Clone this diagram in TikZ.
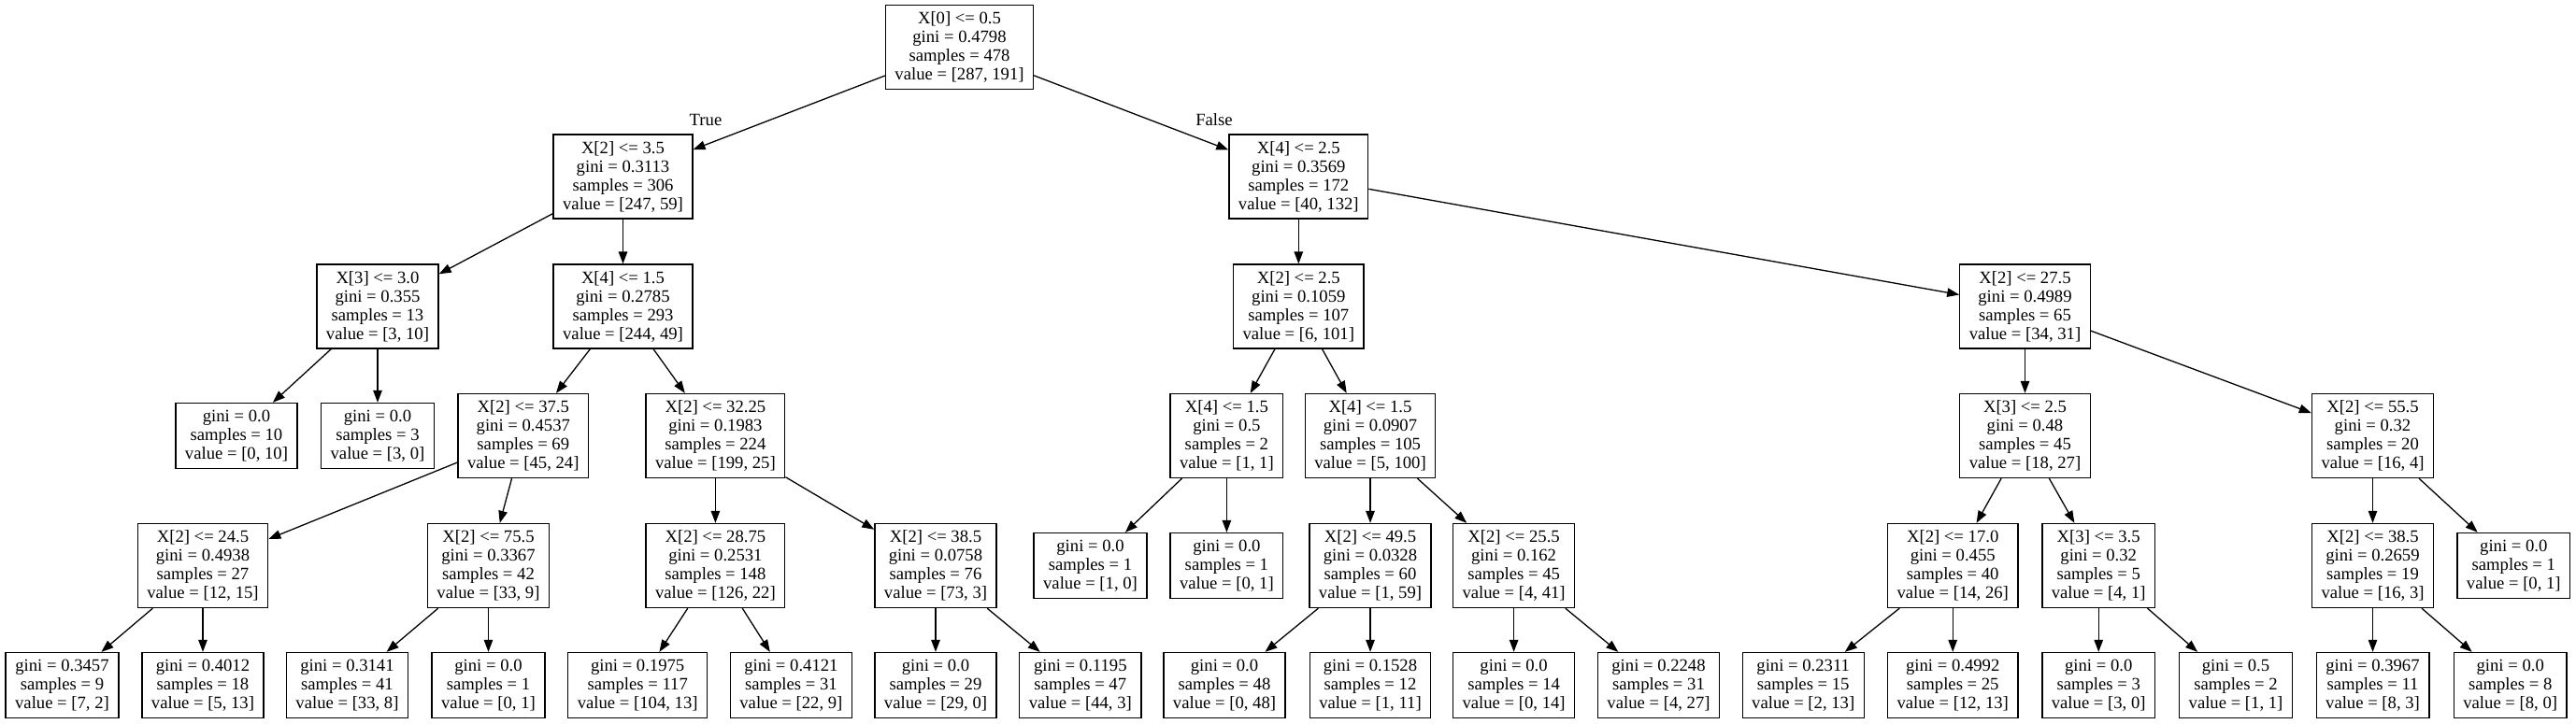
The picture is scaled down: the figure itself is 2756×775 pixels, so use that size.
\documentclass[tikz,border=0pt]{standalone}
\usepackage{fontspec}
\setmainfont{Liberation Serif}
\usetikzlibrary{arrows.meta}

\begin{document}
\begin{tikzpicture}[x=1pt, y=-1pt, >={Triangle[length=13pt, width=9.5pt]}, line width=1.3pt,
    treebox/.style={draw, fill=white, align=center, inner xsep=10pt, inner ysep=0pt,
        font=\fontsize{18.67pt}{20pt}\selectfont},
    splitnode/.style={treebox, minimum height=90pt},
    leafnode/.style={treebox, minimum height=70pt}]
    \useasboundingbox (0,0) rectangle (2756,775);

    % level 0 and 1
    \node[splitnode] (n0) at (1026.5,50.5) {X[0] <= 0.5\\gini = 0.4798\\samples = 478\\value = [287, 191]};
    \node[splitnode] (n1) at (666.5,189) {X[2] <= 3.5\\gini = 0.3113\\samples = 306\\value = [247, 59]};
    \node[splitnode] (n20) at (1389.3,189) {X[4] <= 2.5\\gini = 0.3569\\samples = 172\\value = [40, 132]};

    % level 2
    \node[splitnode] (n2) at (404,328) {X[3] <= 3.0\\gini = 0.355\\samples = 13\\value = [3, 10]};
    \node[splitnode] (n5) at (666.5,328) {X[4] <= 1.5\\gini = 0.2785\\samples = 293\\value = [244, 49]};
    \node[splitnode] (n21) at (1389.3,328) {X[2] <= 2.5\\gini = 0.1059\\samples = 107\\value = [6, 101]};
    \node[splitnode] (n32) at (2166.5,328) {X[2] <= 27.5\\gini = 0.4989\\samples = 65\\value = [34, 31]};

    % level 3
    \node[leafnode] (n3) at (253,466.5) {gini = 0.0\\samples = 10\\value = [0, 10]};
    \node[leafnode] (n4) at (404,466.5) {gini = 0.0\\samples = 3\\value = [3, 0]};
    \node[splitnode] (n6) at (559.8,466.5) {X[2] <= 37.5\\gini = 0.4537\\samples = 69\\value = [45, 24]};
    \node[splitnode] (n13) at (765.4,466.5) {X[2] <= 32.25\\gini = 0.1983\\samples = 224\\value = [199, 25]};
    \node[splitnode] (n22) at (1312.4,466.5) {X[4] <= 1.5\\gini = 0.5\\samples = 2\\value = [1, 1]};
    \node[splitnode] (n25) at (1466,466.5) {X[4] <= 1.5\\gini = 0.0907\\samples = 105\\value = [5, 100]};
    \node[splitnode] (n33) at (2166.5,466.5) {X[3] <= 2.5\\gini = 0.48\\samples = 45\\value = [18, 27]};
    \node[splitnode] (n40) at (2538.5,466.5) {X[2] <= 55.5\\gini = 0.32\\samples = 20\\value = [16, 4]};

    % level 4
    \node[splitnode] (n7) at (217,605.5) {X[2] <= 24.5\\gini = 0.4938\\samples = 27\\value = [12, 15]};
    \node[splitnode] (n10) at (522.5,605.5) {X[2] <= 75.5\\gini = 0.3367\\samples = 42\\value = [33, 9]};
    \node[splitnode] (n14) at (765.4,605.5) {X[2] <= 28.75\\gini = 0.2531\\samples = 148\\value = [126, 22]};
    \node[splitnode] (n17) at (1001,605.5) {X[2] <= 38.5\\gini = 0.0758\\samples = 76\\value = [73, 3]};
    \node[leafnode] (n23) at (1166.5,605.5) {gini = 0.0\\samples = 1\\value = [1, 0]};
    \node[leafnode] (n24) at (1312.4,605.5) {gini = 0.0\\samples = 1\\value = [0, 1]};
    \node[splitnode] (n26) at (1466,605.5) {X[2] <= 49.5\\gini = 0.0328\\samples = 60\\value = [1, 59]};
    \node[splitnode] (n29) at (1619.6,605.5) {X[2] <= 25.5\\gini = 0.162\\samples = 45\\value = [4, 41]};
    \node[splitnode] (n34) at (2089.2,605.5) {X[2] <= 17.0\\gini = 0.455\\samples = 40\\value = [14, 26]};
    \node[splitnode] (n37) at (2245.2,605.5) {X[3] <= 3.5\\gini = 0.32\\samples = 5\\value = [4, 1]};
    \node[splitnode] (n41) at (2538.5,605.5) {X[2] <= 38.5\\gini = 0.2659\\samples = 19\\value = [16, 3]};
    \node[leafnode] (n44) at (2689.3,605.5) {gini = 0.0\\samples = 1\\value = [0, 1]};

    % level 5 (leaves)
    \node[leafnode] (n8) at (66.5,733.5) {gini = 0.3457\\samples = 9\\value = [7, 2]};
    \node[leafnode] (n9) at (217,733.5) {gini = 0.4012\\samples = 18\\value = [5, 13]};
    \node[leafnode] (n11) at (371.5,733.5) {gini = 0.3141\\samples = 41\\value = [33, 8]};
    \node[leafnode] (n12) at (522.5,733.5) {gini = 0.0\\samples = 1\\value = [0, 1]};
    \node[leafnode] (n15) at (682.2,733.5) {gini = 0.1975\\samples = 117\\value = [104, 13]};
    \node[leafnode] (n16) at (846.4,733.5) {gini = 0.4121\\samples = 31\\value = [22, 9]};
    \node[leafnode] (n18) at (1001,733.5) {gini = 0.0\\samples = 29\\value = [29, 0]};
    \node[leafnode] (n19) at (1155.8,733.5) {gini = 0.1195\\samples = 47\\value = [44, 3]};
    \node[leafnode] (n27) at (1310,733.5) {gini = 0.0\\samples = 48\\value = [0, 48]};
    \node[leafnode] (n28) at (1466,733.5) {gini = 0.1528\\samples = 12\\value = [1, 11]};
    \node[leafnode] (n30) at (1619.6,733.5) {gini = 0.0\\samples = 14\\value = [0, 14]};
    \node[leafnode] (n31) at (1774.5,733.5) {gini = 0.2248\\samples = 31\\value = [4, 27]};
    \node[leafnode] (n35) at (1929.2,733.5) {gini = 0.2311\\samples = 15\\value = [2, 13]};
    \node[leafnode] (n36) at (2089.2,733.5) {gini = 0.4992\\samples = 25\\value = [12, 13]};
    \node[leafnode] (n38) at (2245.2,733.5) {gini = 0.0\\samples = 3\\value = [3, 0]};
    \node[leafnode] (n39) at (2392,733.5) {gini = 0.5\\samples = 2\\value = [1, 1]};
    \node[leafnode] (n42) at (2538.5,733.5) {gini = 0.3967\\samples = 11\\value = [8, 3]};
    \node[leafnode] (n43) at (2685.7,733.5) {gini = 0.0\\samples = 8\\value = [8, 0]};

    \foreach \p/\c in {0/1, 0/20, 1/2, 1/5, 2/3, 2/4, 5/6, 5/13, 6/7, 6/10, 7/8, 7/9,
        10/11, 10/12, 13/14, 13/17, 14/15, 14/16, 17/18, 17/19, 20/21, 20/32,
        21/22, 21/25, 22/23, 22/24, 25/26, 25/29, 26/27, 26/28, 29/30, 29/31,
        32/33, 32/40, 33/34, 33/37, 34/35, 34/36, 37/38, 37/39, 40/41, 40/44,
        41/42, 41/43} {
        \draw[->] (n\p) -- (n\c);
    };

    \node[font=\fontsize{18.67pt}{20pt}\selectfont] (true-lbl) at (755,128) {True};
    \node[font=\fontsize{18.67pt}{20pt}\selectfont] (false-lbl) at (1299,128) {False};

\end{tikzpicture}
\end{document}
